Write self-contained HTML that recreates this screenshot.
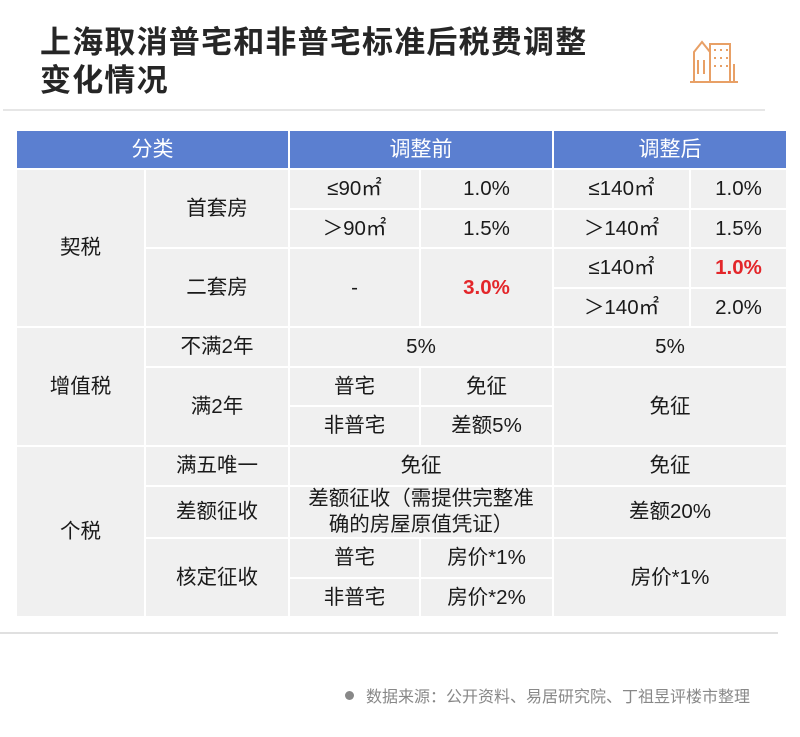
<!DOCTYPE html><html><head><meta charset="utf-8"><style>
body{margin:0;width:800px;height:737px;background:#fff;position:relative;overflow:hidden;font-family:"Liberation Sans","Noto Sans CJK SC",sans-serif;}
.t{position:absolute;left:40px;font-size:31px;font-weight:bold;color:#262626;letter-spacing:1.2px}
.c{position:absolute;background:#f0f0f0;display:flex;align-items:center;justify-content:center;font-size:20.5px;color:#1a1a1a;text-align:center;line-height:26px;box-sizing:border-box;border:1px solid #fff}
.h{background:#5b7fd0;color:#fff;font-size:21px}
.r{color:#e3262a;font-weight:bold}
</style></head><body>
<div class="t" style="top:17px">上海取消普宅和非普宅标准后税费调整</div>
<div class="t" style="top:55px">变化情况</div>
<svg style="position:absolute;left:688px;top:34px" width="56" height="52" viewBox="0 0 56 52" fill="none" stroke="#e8a066" stroke-width="2">
<path d="M6 48V18l8-10 8 10v30M22 48V10h20v38M2 48h48M26 16h2M32 16h2M38 16h2M26 24h2M32 24h2M38 24h2M26 32h2M32 32h2M38 32h2M10 26v14M16 26v14M46 30v18"/></svg>
<div style="position:absolute;left:3px;top:109px;width:762px;height:2px;background:#e6e6e6"></div>
<div style="position:absolute;left:0;top:632px;width:778px;height:2px;background:#e0e0e0"></div>

<div class="c h" style="left:16px;top:130px;width:273px;height:39px">分类</div>
<div class="c h" style="left:289px;top:130px;width:264px;height:39px">调整前</div>
<div class="c h" style="left:553px;top:130px;width:234px;height:39px">调整后</div>

<div class="c" style="left:16px;top:169px;width:129px;height:158px">契税</div>
<div class="c" style="left:145px;top:169px;width:144px;height:79px">首套房</div>
<div class="c" style="left:289px;top:169px;width:131px;height:40px">≤90㎡</div>
<div class="c" style="left:420px;top:169px;width:133px;height:40px">1.0%</div>
<div class="c" style="left:553px;top:169px;width:137px;height:40px">≤140㎡</div>
<div class="c" style="left:690px;top:169px;width:97px;height:40px">1.0%</div>
<div class="c" style="left:289px;top:209px;width:131px;height:39px">＞90㎡</div>
<div class="c" style="left:420px;top:209px;width:133px;height:39px">1.5%</div>
<div class="c" style="left:553px;top:209px;width:137px;height:39px">＞140㎡</div>
<div class="c" style="left:690px;top:209px;width:97px;height:39px">1.5%</div>
<div class="c" style="left:145px;top:248px;width:144px;height:79px">二套房</div>
<div class="c" style="left:289px;top:248px;width:131px;height:79px">-</div>
<div class="c r" style="left:420px;top:248px;width:133px;height:79px">3.0%</div>
<div class="c" style="left:553px;top:248px;width:137px;height:40px">≤140㎡</div>
<div class="c r" style="left:690px;top:248px;width:97px;height:40px">1.0%</div>
<div class="c" style="left:553px;top:288px;width:137px;height:39px">＞140㎡</div>
<div class="c" style="left:690px;top:288px;width:97px;height:39px">2.0%</div>

<div class="c" style="left:16px;top:327px;width:129px;height:119px">增值税</div>
<div class="c" style="left:145px;top:327px;width:144px;height:40px">不满2年</div>
<div class="c" style="left:289px;top:327px;width:264px;height:40px">5%</div>
<div class="c" style="left:553px;top:327px;width:234px;height:40px">5%</div>
<div class="c" style="left:145px;top:367px;width:144px;height:79px">满2年</div>
<div class="c" style="left:289px;top:367px;width:131px;height:39px">普宅</div>
<div class="c" style="left:420px;top:367px;width:133px;height:39px">免征</div>
<div class="c" style="left:289px;top:406px;width:131px;height:40px">非普宅</div>
<div class="c" style="left:420px;top:406px;width:133px;height:40px">差额5%</div>
<div class="c" style="left:553px;top:367px;width:234px;height:79px">免征</div>

<div class="c" style="left:16px;top:446px;width:129px;height:171px">个税</div>
<div class="c" style="left:145px;top:446px;width:144px;height:40px">满五唯一</div>
<div class="c" style="left:289px;top:446px;width:264px;height:40px">免征</div>
<div class="c" style="left:553px;top:446px;width:234px;height:40px">免征</div>
<div class="c" style="left:145px;top:486px;width:144px;height:52px">差额征收</div>
<div class="c" style="left:289px;top:486px;width:264px;height:52px">差额征收（需提供完整准<br>确的房屋原值凭证）</div>
<div class="c" style="left:553px;top:486px;width:234px;height:52px">差额20%</div>
<div class="c" style="left:145px;top:538px;width:144px;height:79px">核定征收</div>
<div class="c" style="left:289px;top:538px;width:131px;height:40px">普宅</div>
<div class="c" style="left:420px;top:538px;width:133px;height:40px">房价*1%</div>
<div class="c" style="left:289px;top:578px;width:131px;height:39px">非普宅</div>
<div class="c" style="left:420px;top:578px;width:133px;height:39px">房价*2%</div>
<div class="c" style="left:553px;top:538px;width:234px;height:79px">房价*1%</div>

<div style="position:absolute;left:345px;top:683px;font-size:16px;color:#888;white-space:nowrap"><span style="display:inline-block;width:9px;height:9px;border-radius:50%;background:#888;margin-right:12px;vertical-align:2px"></span>数据来源：公开资料、易居研究院、丁祖昱评楼市整理</div>
</body></html>
